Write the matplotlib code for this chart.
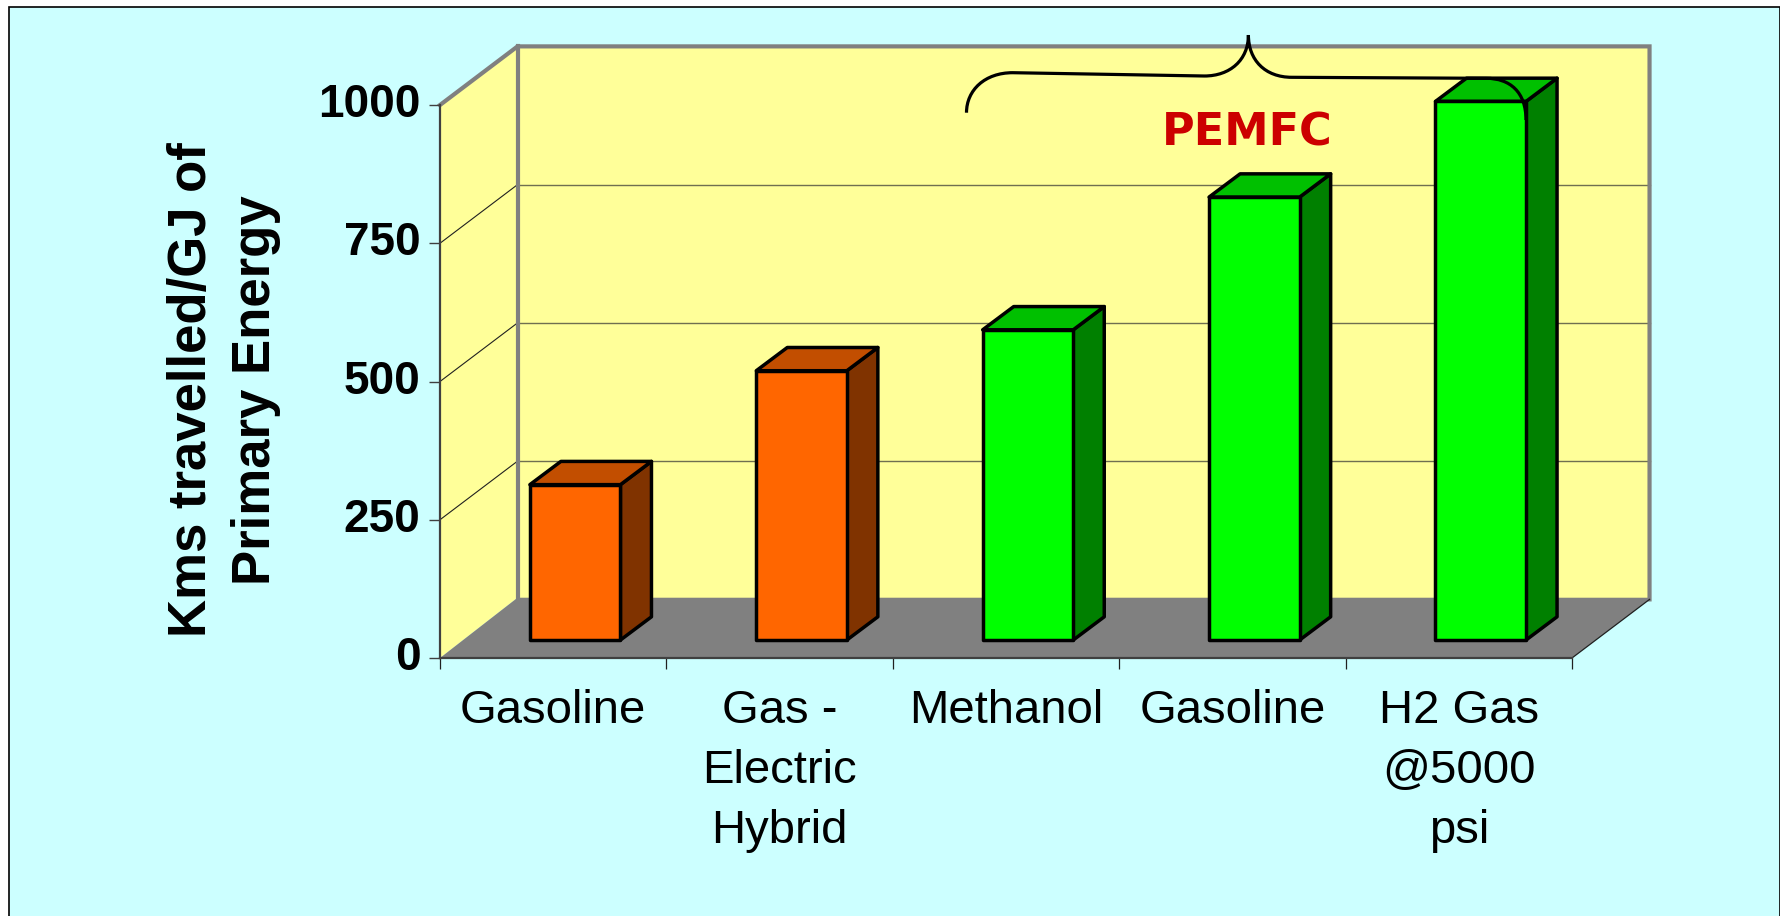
import matplotlib
matplotlib.use("Agg")
import matplotlib.pyplot as plt
from matplotlib.patches import Polygon, Rectangle, PathPatch
from matplotlib.path import Path
from matplotlib.transforms import Affine2D

categories = ["Gasoline", "Gas -\nElectric\nHybrid", "Methanol", "Gasoline", "H2 Gas\n@5000\npsi"]
values = [281, 487, 561, 801, 974]
front_colors = ["#FF6600", "#FF6600", "#00FF00", "#00FF00", "#00FF00"]
top_colors = ["#C24E00", "#C24E00", "#00C000", "#00C000", "#00C000"]
side_colors = ["#803300", "#803300", "#008000", "#008000", "#008000"]
y_ticks = [0, 250, 500, 750, 1000]
y_title = "Kms travelled/GJ of\nPrimary Energy"
group_label = "PEMFC"

W, H = 1781, 916
plt.rcParams["font.family"] = ["Liberation Sans", "DejaVu Sans"]
fig = plt.figure(figsize=(W / 100, H / 100), dpi=100, facecolor="white")
px = Affine2D().scale(1, -1).translate(0, H)

fig.add_artist(Rectangle((9, 7), 1771, 920, transform=px, facecolor="#CCFFFF",
                         edgecolor="black", linewidth=1.2, clip_on=False, zorder=-1))

ax = fig.add_axes([440 / W, (H - 658) / H, 1132 / W, 553 / H])
ax.set_xlim(0, 5)
ax.set_ylim(0, 1000)
ax.patch.set_visible(False)

# wall depth in data units
DX, DY, DY_FLOOR = 0.3425, 106, 109
GRAY = "#808080"
YEL = "#FFFF99"
n = len(categories)
ymax = y_ticks[-1]

ax.add_patch(Polygon([(DX, DY_FLOOR), (n + DX, DY_FLOOR), (n + DX, ymax + DY), (DX, ymax + DY)],
                     closed=True, facecolor=YEL, edgecolor="none", zorder=1, clip_on=False))
ax.add_patch(Polygon([(0, 0), (DX, DY_FLOOR), (DX, ymax + DY), (0, ymax)],
                     closed=True, facecolor=YEL, edgecolor="none", zorder=1, clip_on=False))
ax.add_patch(Polygon([(0, 0), (n, 0), (n + DX, DY), (n + DX, DY_FLOOR), (DX, DY_FLOOR)],
                     closed=True, facecolor=GRAY, edgecolor="none", zorder=1.1, clip_on=False))

for t in y_ticks[1:-1]:
    ax.plot([0, DX], [t, t + DY], color="#202020", lw=0.8, zorder=1.2, clip_on=False)
    ax.plot([DX, n + DX], [t + DY, t + DY], color="#6F6F50", lw=1.0, zorder=1.2, clip_on=False)
ax.plot([0, DX, n + DX, n + DX], [ymax, ymax + DY, ymax + DY, DY], color=GRAY, lw=3,
        solid_joinstyle="miter", zorder=1.3, clip_on=False)
ax.plot([DX, DX], [DY_FLOOR, ymax + DY], color=GRAY, lw=3, zorder=1.3, clip_on=False)
ax.plot([n, n + DX], [0, DY], color="#202020", lw=0.9, zorder=1.3, clip_on=False)

# bars
bar_w, bar_shift, bar_dx, bar_dy, bar_base = 0.40, 0.097, 0.137, 42, 32.5
for i, v in enumerate(values):
    x0 = i + 0.5 + bar_shift - bar_w / 2
    x1 = x0 + bar_w
    y0, y1 = bar_base, bar_base + v
    kw = dict(closed=True, edgecolor="black", linewidth=2.5, joinstyle="round", zorder=3, clip_on=False)
    ax.add_patch(Polygon([(x1, y0), (x1 + bar_dx, y0 + bar_dy), (x1 + bar_dx, y1 + bar_dy), (x1, y1)],
                         facecolor=side_colors[i], **kw))
    ax.add_patch(Polygon([(x0, y1), (x1, y1), (x1 + bar_dx, y1 + bar_dy), (x0 + bar_dx, y1 + bar_dy)],
                         facecolor=top_colors[i], **kw))
    ax.add_patch(Polygon([(x0, y0), (x1, y0), (x1, y1), (x0, y1)],
                         facecolor=front_colors[i], **kw))

# axes
for s in ("top", "right"):
    ax.spines[s].set_visible(False)
for s in ("left", "bottom"):
    ax.spines[s].set_color("#404040")
    ax.spines[s].set_linewidth(1.6)
ax.set_yticks(y_ticks)
ax.set_yticklabels([str(t) for t in y_ticks], fontsize=33, fontweight="bold", va="center")
ax.tick_params(axis="y", length=8, width=1.0, color="#404040", pad=6)
ax.set_xticks(range(n + 1))
ax.set_xticklabels([])
ax.tick_params(axis="x", which="major", length=8, width=0.9, color="#202020")
ax.set_xticks([i + 0.5 for i in range(n)], minor=True)
ax.set_xticklabels(categories, minor=True, fontsize=34, linespacing=1.47)
ax.tick_params(axis="x", which="minor", length=0, pad=22)
ax.set_ylabel(y_title, fontsize=38, fontweight="bold", linespacing=1.34, ha="center", va="center")
ax.yaxis.set_label_coords((224 - 440) / 1132, (658 - 390) / 553)

# brace and group label
verts = [(966.5, 112.7), (966.5, 90), (985, 72.7), (1012.7, 72.7), (1204.4, 76),
         (1230, 76), (1248.4, 60), (1248.4, 35), (1248.4, 60), (1265, 77.3), (1291.8, 77.3),
         (1486.2, 78.3), (1510, 78.3), (1526, 92), (1526, 120)]
codes = [Path.MOVETO, Path.CURVE4, Path.CURVE4, Path.CURVE4, Path.LINETO,
         Path.CURVE4, Path.CURVE4, Path.CURVE4, Path.CURVE4, Path.CURVE4, Path.CURVE4,
         Path.LINETO, Path.CURVE4, Path.CURVE4, Path.CURVE4]
fig.add_artist(PathPatch(Path(verts, codes), transform=px, facecolor="none",
                         edgecolor="black", linewidth=2.3, zorder=5))
fig.text(1247 / W, (H - 145) / H, group_label, color="#CC0000", fontsize=32, fontweight="bold",
         family="DejaVu Sans", ha="center", va="baseline", zorder=5)

fig.savefig("out.png", dpi=100, facecolor=fig.get_facecolor())
